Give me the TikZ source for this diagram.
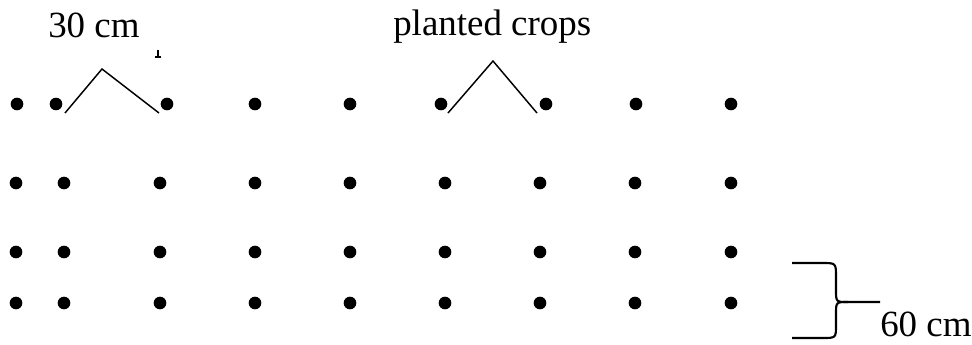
\documentclass[tikz,border=0pt]{standalone}
\usepackage{fontspec}
\setmainfont{Liberation Serif}
\usepackage{tikz}

\begin{document}
\begin{tikzpicture}[x=0.75pt, y=-0.75pt]
	% Define styles for crops and labels
	\tikzstyle{crop}=[circle, fill=black, draw=none, inner sep=0pt, minimum width=9.5pt]
	\tikzstyle{lab}=[inner sep=0pt, font=\fontsize{27.7}{32}\selectfont]
	\useasboundingbox (0,0) rectangle (972,344);
	
	% first row
	\node[crop] (a1) at (17,104) {};
	\node[crop] (b1) at (56,104) {};
	\node[crop] (c1) at (167,104) {};
	\node[crop] (d1) at (255,104) {};
	\node[crop] (e1) at (350,104) {};
	\node[crop] (f1) at (441,104) {};
	\node[crop] (g1) at (546,104) {};
	\node[crop] (h1) at (636,104) {};
	\node[crop] (k1) at (731,104) {};
	
	% second row
	\node[crop] (a2) at (16,183) {};
	\node[crop] (b2) at (64,183) {};
	\node[crop] (c2) at (160,183) {};
	\node[crop] (d2) at (255,183) {};
	\node[crop] (e2) at (350,183) {};
	\node[crop] (f2) at (445,183) {};
	\node[crop] (g2) at (540,183) {};
	\node[crop] (h2) at (635,183) {};
	\node[crop] (k2) at (731,183) {};
	
	% third row
	\node[crop] (a3) at (16,252) {};
	\node[crop] (b3) at (64,252) {};
	\node[crop] (c3) at (160,252) {};
	\node[crop] (d3) at (255,252) {};
	\node[crop] (e3) at (350,252) {};
	\node[crop] (f3) at (445,252) {};
	\node[crop] (g3) at (540,252) {};
	\node[crop] (h3) at (635,252) {};
	\node[crop] (k3) at (731,252) {};
	
	% fourth row
	\node[crop] (a4) at (16,303) {};
	\node[crop] (b4) at (64,303) {};
	\node[crop] (c4) at (160,303) {};
	\node[crop] (d4) at (255,303) {};
	\node[crop] (e4) at (350,303) {};
	\node[crop] (f4) at (445,303) {};
	\node[crop] (g4) at (540,303) {};
	\node[crop] (h4) at (635,303) {};
	\node[crop] (k4) at (731,303) {};
	
	% labels
	\node[lab, anchor=base west] (w30) at (48,37) {30 cm};
	\node[lab, anchor=base west] (wpc) at (393,35) {planted crops};
	\node[lab, anchor=base west] (w60) at (880,336) {60 cm};
	
	% carets
	\coordinate (p1) at (65,113);
	\coordinate (q1) at (102,69);
	\coordinate (r1) at (159,113);
	\coordinate (p2) at (448,113);
	\coordinate (q2) at (493,61);
	\coordinate (r2) at (537,113);
	\draw[line width=1.1pt] (p1) -- (q1) -- (r1);
	\draw[line width=1.1pt] (p2) -- (q2) -- (r2);
	
	% stray mark
	\coordinate (t1) at (158,50);
	\coordinate (t2) at (158,57);
	\draw[line width=1.3pt] (t1) -- (t2);
	\draw[line width=0.8pt] (155,57) -- (161,57);
	
	% brace
	\coordinate (bt) at (792,263);
	\coordinate (bb) at (792,338);
	\coordinate (bm) at (880,302);
	\draw[line width=1.6pt] (bt) -- (822,263) .. controls (836,263) .. (836,277)
		-- (836,290) .. controls (836,302) .. (848,302) -- (bm);
	\draw[line width=1.6pt] (848,302) .. controls (836,302) .. (836,314)
		-- (836,325) .. controls (836,338) .. (822,338) -- (bb);
\end{tikzpicture}
\end{document}
